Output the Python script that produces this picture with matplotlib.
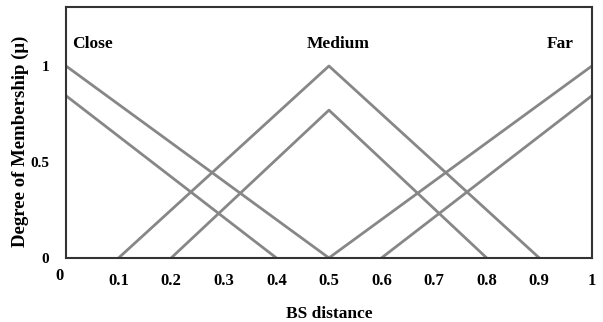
import matplotlib.pyplot as plt

plt.rcParams['font.family'] = ['Liberation Serif', 'DejaVu Serif']
plt.rcParams['font.weight'] = 'bold'

# membership function breakpoints (x, mu)
close_outer_x = [0.0, 0.5]
close_outer_y = [1.0, 0.0]
close_inner_x = [0.0, 0.4]
close_inner_y = [0.845, 0.0]
medium_outer_x = [0.1, 0.5, 0.9]
medium_outer_y = [0.0, 1.0, 0.0]
medium_inner_x = [0.2, 0.5, 0.8]
medium_inner_y = [0.0, 0.77, 0.0]
far_outer_x = [0.5, 1.0]
far_outer_y = [0.0, 1.0]
far_inner_x = [0.6, 1.0]
far_inner_y = [0.0, 0.845]

x_ticks = [0.1, 0.2, 0.3, 0.4, 0.5, 0.6, 0.7, 0.8, 0.9, 1.0]
x_tick_labels = ['0.1', '0.2', '0.3', '0.4', '0.5', '0.6', '0.7', '0.8', '0.9', '1']
y_ticks = [0.0, 0.5, 1.0]
y_tick_labels = ['0', '0.5', '1']

fig = plt.figure(figsize=(6.03, 3.22), dpi=100)
ax = fig.add_axes([0.1095, 0.199, 0.872, 0.779])

line_kw = dict(color='#878787', lw=2.0, solid_capstyle='butt')
for xs, ys in [(close_outer_x, close_outer_y), (close_inner_x, close_inner_y),
               (medium_outer_x, medium_outer_y), (medium_inner_x, medium_inner_y),
               (far_outer_x, far_outer_y), (far_inner_x, far_inner_y)]:
    ax.plot(xs, ys, **line_kw)

ax.set_xlim(0, 1)
ax.set_ylim(0, 1.307)
ax.set_xticks(x_ticks)
ax.set_xticklabels(x_tick_labels, fontsize=12, fontweight='bold')
ax.set_yticks(y_ticks)
ax.set_yticklabels(y_tick_labels, fontsize=11, fontweight='bold')
ax.tick_params(axis='x', length=0, pad=11)
ax.tick_params(axis='y', length=0, pad=12)
for s in ax.spines.values():
    s.set_color('#333333')
    s.set_linewidth(1.5)

ax.text(-0.013, -0.055, '0', ha='center', va='top', fontsize=12, fontweight='bold')

ax.text(0.012, 1.115, 'Close', ha='left', va='center', fontsize=12.5, fontweight='bold')
ax.text(0.517, 1.115, 'Medium', ha='center', va='center', fontsize=12.5, fontweight='bold')
ax.text(0.966, 1.115, 'Far', ha='right', va='center', fontsize=12.5, fontweight='bold')

ax.set_xlabel('BS distance', fontsize=12.5, fontweight='bold', labelpad=12)
ax.set_ylabel('Degree of Membership (\u03bc)', fontsize=13.5, fontweight='bold')
ax.yaxis.set_label_coords(-0.071, 0.466)

fig.savefig('out.png', dpi=100)
